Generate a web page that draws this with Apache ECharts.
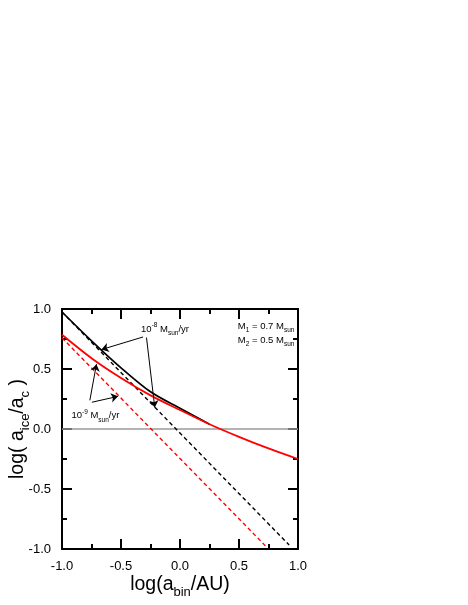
<!DOCTYPE html>
<html><head><meta charset="utf-8">
<script src="https://cdn.jsdelivr.net/npm/echarts@6/dist/echarts.min.js"></script>
<style>html,body{margin:0;padding:0;background:#fff}#c{width:468px;height:605px}</style>
</head><body><div id="c"></div>
<script>
// ---- data ----
const xTickLabels = ['-1.0', '-0.5', '0.0', '0.5', '1.0'];
const yTickLabels = ['-1.0', '-0.5', '0.0', '0.5', '1.0'];
const redSolidX = [-1, -0.75, -0.5, -0.25, 0, 0.25, 0.5, 0.75, 1];
const redSolidY = [0.785, 0.59, 0.425, 0.28, 0.158, 0.04, -0.065, -0.162, -0.25];
const blackSolidX = [-1, -0.75, -0.5, -0.25, 0, 0.25];
const blackSolidY = [0.975, 0.735, 0.51, 0.31, 0.172, 0.04];
const blackDashedX = [-1, 0.925];
const blackDashedY = [0.975, -0.967];
const redDashedX = [-1, 0.73];
const redDashedY = [0.76, -0.98];
const zeroLineX = [-1, 1];
const zeroLineY = [0, 0];

const pairs = (xs, ys) => xs.map((x, i) => [x, ys[i]]);
const FONT = 'Liberation Sans, Arial, sans-serif';

// annotation anchors (data coordinates)
const arrows = [
  [[-0.313, 0.767], [-0.665, 0.662]],
  [[-0.284, 0.762], [-0.214, 0.180]],
  [[-0.764, 0.239], [-0.708, 0.540]],
  [[-0.747, 0.223], [-0.525, 0.272]]
];
const notes = [
  { at: [-0.33, 0.83], text: '10{sup|-8} M{sub|sun}/yr' },
  { at: [-0.92, 0.11], text: '10{sup|-9} M{sub|sun}/yr' },
  { at: [0.49, 0.855], text: 'M{sub|1} = 0.7 M{sub|sun}' },
  { at: [0.49, 0.74], text: 'M{sub|2} = 0.5 M{sub|sun}' }
];

const chart = echarts.init(document.getElementById('c'), null, { renderer: 'canvas' });

const axisCommon = {
  type: 'value', min: -1, max: 1, interval: 0.5,
  axisLine: { onZero: false, lineStyle: { color: '#000', width: 2 } },
  axisTick: { inside: true, length: 10, lineStyle: { color: '#000', width: 2 } },
  minorTick: { show: true, splitNumber: 2, length: 5, lineStyle: { color: '#000', width: 2 } },
  splitLine: { show: false }
};
const lblIdx = v => Math.round((v + 1) / 0.5);
const nameStyle = { fontSize: 19.5, color: '#000', fontFamily: FONT, lineHeight: 28,
  rich: { sub: { fontSize: 13, lineHeight: 13, verticalAlign: 'bottom', fontFamily: FONT, color: '#000' } } };

chart.setOption({
  animation: false,
  backgroundColor: '#fff',
  grid: { left: 62, right: 170, top: 309, bottom: 56, containLabel: false, outerBoundsMode: 'none' },
  xAxis: [
    Object.assign({}, axisCommon, {
      position: 'bottom',
      axisLabel: { fontSize: 13, color: '#000', fontFamily: FONT, margin: 11, formatter: v => xTickLabels[lblIdx(v)] },
      name: 'log(a{sub|bin}/AU)', nameLocation: 'middle', nameGap: 22, nameMoveOverlap: false,
      nameTextStyle: nameStyle
    }),
    Object.assign({}, axisCommon, { position: 'top', axisLabel: { show: false } })
  ],
  yAxis: [
    Object.assign({}, axisCommon, {
      position: 'left',
      axisLabel: { fontSize: 13, color: '#000', fontFamily: FONT, margin: 11, formatter: v => yTickLabels[lblIdx(v)] },
      name: 'log( a{sub|ice}/a{sub|c} )', nameLocation: 'middle', nameGap: 30, nameRotate: 90, nameMoveOverlap: false,
      nameTextStyle: nameStyle
    }),
    Object.assign({}, axisCommon, { position: 'right', axisLabel: { show: false } })
  ],
  series: [
    { type: 'line', name: 'zero', data: pairs(zeroLineX, zeroLineY), showSymbol: false, silent: true,
      lineStyle: { color: '#9a9a9a', width: 1.5 }, z: 1 },
    { type: 'line', name: 'black dashed', data: pairs(blackDashedX, blackDashedY), showSymbol: false,
      lineStyle: { color: '#000', width: 1.4, type: [4, 3] }, z: 2 },
    { type: 'line', name: 'red dashed', data: pairs(redDashedX, redDashedY), showSymbol: false,
      lineStyle: { color: '#ff0000', width: 1.4, type: [4, 3] }, z: 2 },
    { type: 'line', name: 'black solid', data: pairs(blackSolidX, blackSolidY), showSymbol: false,
      smooth: 0.3,
      lineStyle: { color: '#000', width: 1.7 }, z: 3 },
    { type: 'line', name: 'red solid', data: pairs(redSolidX, redSolidY), showSymbol: false,
      smooth: 0.3,
      lineStyle: { color: '#ff0000', width: 1.8 }, z: 4 },
    { type: 'line', name: 'arrows', data: [], z: 5,
      markLine: { silent: true, symbol: ['none', 'arrow'], symbolSize: 7, animation: false,
        label: { show: false }, lineStyle: { color: '#000', width: 1, type: 'solid' },
        data: arrows.map(a => [{ coord: a[0] }, { coord: a[1] }]) } }
  ]
});

const richSmall = {
  sup: { fontSize: 6.5, lineHeight: 7, verticalAlign: 'top', fontFamily: FONT, fill: '#000' },
  sub: { fontSize: 6.5, lineHeight: 7, verticalAlign: 'bottom', fontFamily: FONT, fill: '#000' }
};
chart.setOption({
  graphic: notes.map(n => {
    const p = chart.convertToPixel({ gridIndex: 0 }, n.at);
    return { type: 'text', x: p[0], y: p[1], z: 10, silent: true,
      style: { text: n.text, fontSize: 9.5, lineHeight: 15, fontFamily: FONT, fill: '#000',
        verticalAlign: 'middle', align: 'left', rich: richSmall } };
  })
});
</script></body></html>
